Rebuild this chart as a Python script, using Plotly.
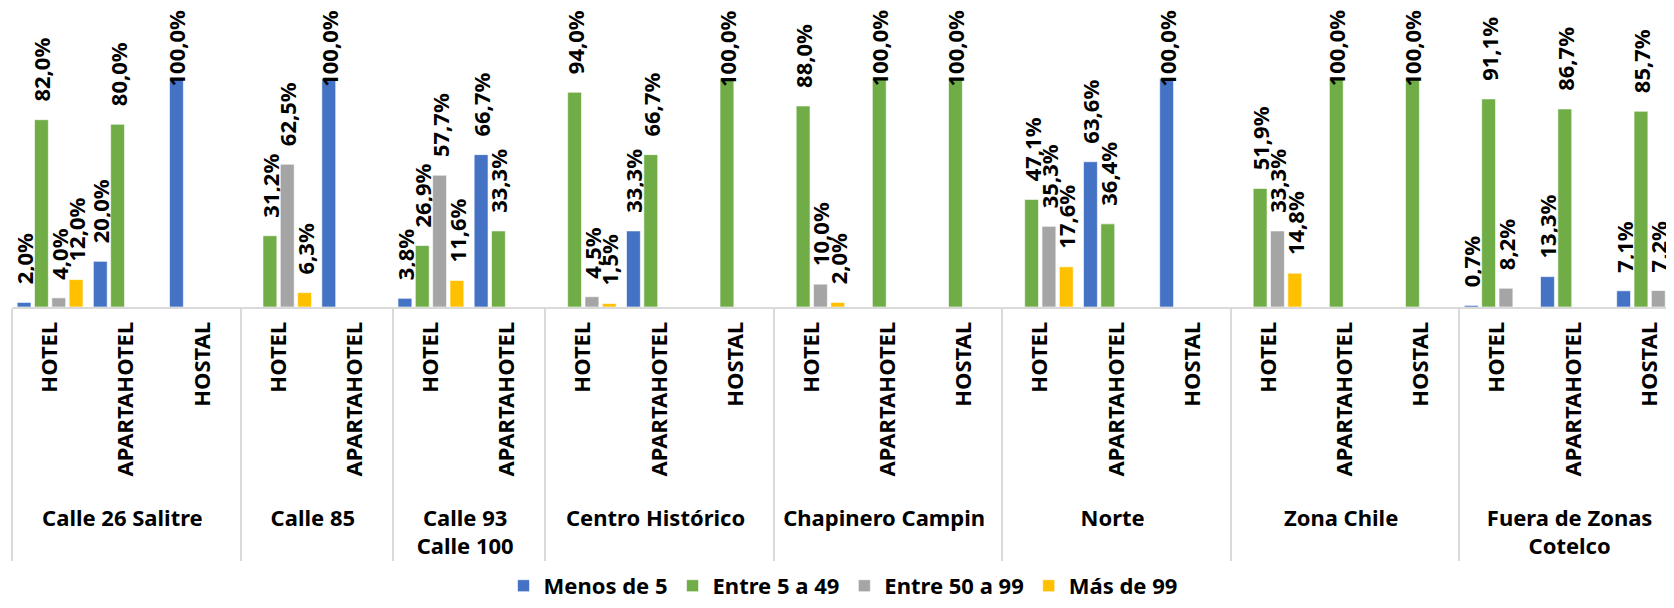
import plotly.graph_objects as go

zones = (["Calle 26 Salitre"] * 3 + ["Calle 85"] * 2 + ["Calle 93<br>Calle 100"] * 2 +
         ["Centro Histórico"] * 3 + ["Chapinero Campin"] * 3 + ["Norte"] * 3 +
         ["Zona Chile"] * 3 + ["Fuera de Zonas<br>Cotelco"] * 3)
types = (["HOTEL", "APARTAHOTEL", "HOSTAL"] + ["HOTEL", "APARTAHOTEL"] * 2 +
         ["HOTEL", "APARTAHOTEL", "HOSTAL"] * 5)

series_names = ["Menos de 5", "Entre 5 a 49", "Entre 50 a 99", "Más de 99"]
menos_5 = [0.020, 0.200, 1.000, None, 1.000, 0.038, 0.667, None, 0.333, None, None, None, None,
           None, 0.636, 1.000, None, None, None, 0.007, 0.133, 0.071]
entre_5_49 = [0.820, 0.800, None, 0.312, None, 0.269, 0.333, 0.940, 0.667, 1.000, 0.880, 1.000, 1.000,
              0.471, 0.364, None, 0.519, 1.000, 1.000, 0.911, 0.867, 0.857]
entre_50_99 = [0.040, None, None, 0.625, None, 0.577, None, 0.045, None, None, 0.100, None, None,
               0.353, None, None, 0.333, None, None, 0.082, None, 0.072]
mas_99 = [0.120, None, None, 0.063, None, 0.116, None, 0.015, None, None, 0.020, None, None,
          0.176, None, None, 0.148, None, None, None, None, None]
colors = ["#4472C4", "#70AD47", "#A5A5A5", "#FFC000"]

FONT = "Noto Sans"
BARGAP = 0.09
BARGROUPGAP = 0.2
all_series = [menos_5, entre_5_49, entre_50_99, mas_99]
n_series = len(all_series)
pad = "\u00a0\u00a0\u2009"
inner_labels = ["\u00a0\u00a0" + t for t in types]

fig = go.Figure()
annotations = []
for i, (name, vals, col) in enumerate(zip(series_names, all_series, colors)):
    templates = []
    for j, v in enumerate(vals):
        if v is not None and v >= 0.999:
            templates.append("")
            offset = (i - (n_series - 1) / 2) * (1 - BARGAP) / n_series
            annotations.append(dict(
                x=j + offset, y=v, xref="x", yref="y",
                text=f"{v * 100:.1f}%".replace(".", ","), textangle=-90,
                showarrow=False, xanchor="center", yanchor="bottom", yshift=-10,
                font=dict(family=FONT, size=22, color="black", weight="bold")))
        else:
            templates.append(pad + "%{y:.1%}")
    fig.add_trace(go.Bar(
        x=[zones, inner_labels], y=vals, name=name,
        marker=dict(color=col, line=dict(color="rgba(255,255,255,0.6)", width=1)),
        texttemplate=templates, textposition="outside", textangle=-90,
        constraintext="none", cliponaxis=False,
        textfont=dict(family=FONT, size=22, color="black", weight="bold"),
    ))

fig.update_layout(
    width=1666, height=600,
    barmode="group", bargap=BARGAP, bargroupgap=BARGROUPGAP,
    separators=",.",
    plot_bgcolor="white", paper_bgcolor="white",
    font=dict(family=FONT, size=22, color="black", weight="bold"),
    margin=dict(l=4, r=0, t=0, b=301, autoexpand=False),
    showlegend=True,
    legend=dict(orientation="h", x=0.5, xanchor="center", y=-1.003, yanchor="bottom",
                font=dict(family=FONT, size=22, color="black", weight="bold"),
                itemwidth=30, traceorder="normal", borderwidth=0),
    xaxis=dict(type="multicategory", range=[-0.5, 21.32], tickangle=-90,
               showline=True, linecolor="#D9D9D9", linewidth=2,
               showdividers=True, dividercolor="#D9D9D9", dividerwidth=2,
               ticks="", ticklabelstandoff=4, automargin=False,
               tickfont=dict(family=FONT, size=22, color="black", weight="bold")),
    yaxis=dict(range=[0, 1.309], visible=False, showgrid=False, zeroline=False),
    annotations=annotations,
)
fig.write_html("out.html")
